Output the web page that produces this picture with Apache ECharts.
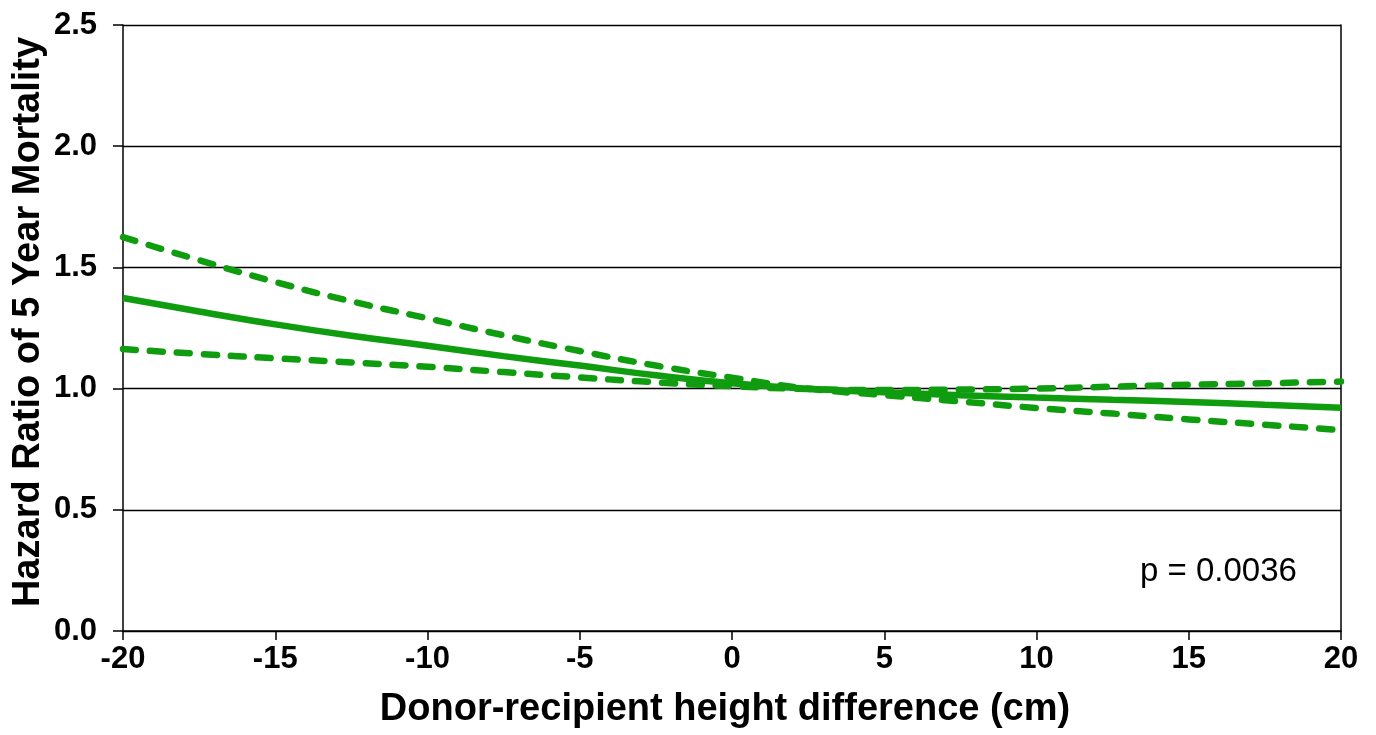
<!DOCTYPE html>
<html>
<head>
<meta charset="utf-8">
<script src="https://cdn.jsdelivr.net/npm/echarts@6/dist/echarts.min.js"></script>
<style>
html,body{margin:0;padding:0;background:#fff;}
#chart{width:1376px;height:735px;}
</style>
</head>
<body>
<div id="chart"></div>
<script>
// Height difference (cm)
const heightDiff = [-20, -17.5, -15, -12.5, -10, -7.5, -5, -2.5, 0, 2.5, 5, 7.5, 10, 12.5, 15, 17.5, 20];
// Hazard ratio estimate (solid)
const hrEstimate = [1.374, 1.318, 1.265, 1.218, 1.177, 1.134, 1.095, 1.055, 1.022, 0.999, 0.985, 0.973, 0.963, 0.954, 0.945, 0.933, 0.921];
// Confidence band line starting high (dashed)
const ciHigh = [1.625, 1.53, 1.44, 1.36, 1.29, 1.22, 1.155, 1.095, 1.045, 1.0, 0.973, 0.947, 0.92, 0.897, 0.873, 0.851, 0.829];
// Confidence band line starting low (dashed)
const ciLow = [1.163, 1.143, 1.125, 1.108, 1.09, 1.068, 1.046, 1.026, 1.01, 0.998, 0.994, 0.996, 1.0, 1.008, 1.016, 1.022, 1.029];
const yTicks = [0, 0.5, 1.0, 1.5, 2.0, 2.5];
const xTicks = [-20, -15, -10, -5, 0, 5, 10, 15, 20];
const pText = 'p = 0.0036';

const pairs = arr => heightDiff.map((x, i) => [x, arr[i]]);
const green = '#0f9d0f';
const font = 'Liberation Sans, Arial, sans-serif';

const chart = echarts.init(document.getElementById('chart'));
chart.setOption({
  animation: false,
  backgroundColor: '#fff',
  grid: {left: 123, right: 35, top: 25, bottom: 104, containLabel: false},
  xAxis: {
    type: 'value',
    min: xTicks[0], max: xTicks[xTicks.length - 1], interval: 5,
    name: 'Donor-recipient height difference (cm)',
    nameLocation: 'middle', nameGap: 60, nameMoveOverlap: false,
    nameTextStyle: {fontFamily: font, fontWeight: 'bold', fontSize: 38, color: '#000', padding: [0, 14, 0, 0]},
    axisLine: {show: true, onZero: false, lineStyle: {color: '#000', width: 1.5}},
    axisTick: {show: true, length: 9, lineStyle: {color: '#000', width: 1.5}},
    axisLabel: {margin: 13, fontFamily: font, fontWeight: 'bold', fontSize: 31, color: '#000'},
    splitLine: {show: false}
  },
  yAxis: [{
    type: 'value',
    min: yTicks[0], max: yTicks[yTicks.length - 1], interval: 0.5,
    name: 'Hazard Ratio of 5 Year Mortality',
    nameLocation: 'middle', nameGap: 75, nameRotate: 90, nameMoveOverlap: false,
    nameTextStyle: {fontFamily: font, fontWeight: 'bold', fontSize: 38, color: '#000', padding: [0, 0, 0, 12]},
    axisLine: {show: true, onZero: false, lineStyle: {color: '#000', width: 1.5}},
    axisTick: {show: true, length: 10, lineStyle: {color: '#000', width: 1.5}},
    axisLabel: {margin: 26, fontFamily: font, fontWeight: 'bold', fontSize: 31, color: '#000',
      formatter: v => v.toFixed(1)},
    splitLine: {show: true, lineStyle: {color: '#000', width: 1.3}}
  }, {
    type: 'value', position: 'right',
    min: yTicks[0], max: yTicks[yTicks.length - 1], interval: 0.5,
    axisLine: {show: true, onZero: false, lineStyle: {color: '#000', width: 1.5}},
    axisTick: {show: false}, axisLabel: {show: false}, splitLine: {show: false}
  }],
  series: [
    {type: 'line', data: pairs(ciHigh), smooth: true, symbol: 'none',
     lineStyle: {color: green, width: 6.5, type: [13, 14], cap: 'round'}},
    {type: 'line', data: pairs(ciLow), smooth: true, symbol: 'none',
     lineStyle: {color: green, width: 6.5, type: [13, 14], cap: 'round'}},
    {type: 'line', data: pairs(hrEstimate), smooth: true, symbol: 'none',
     lineStyle: {color: green, width: 6.5}}
  ],
  graphic: [{
    type: 'text', left: 1140, top: 555,
    style: {text: pText, fontFamily: font, fontSize: 33, fill: '#000'}
  }]
});
</script>
</body>
</html>
